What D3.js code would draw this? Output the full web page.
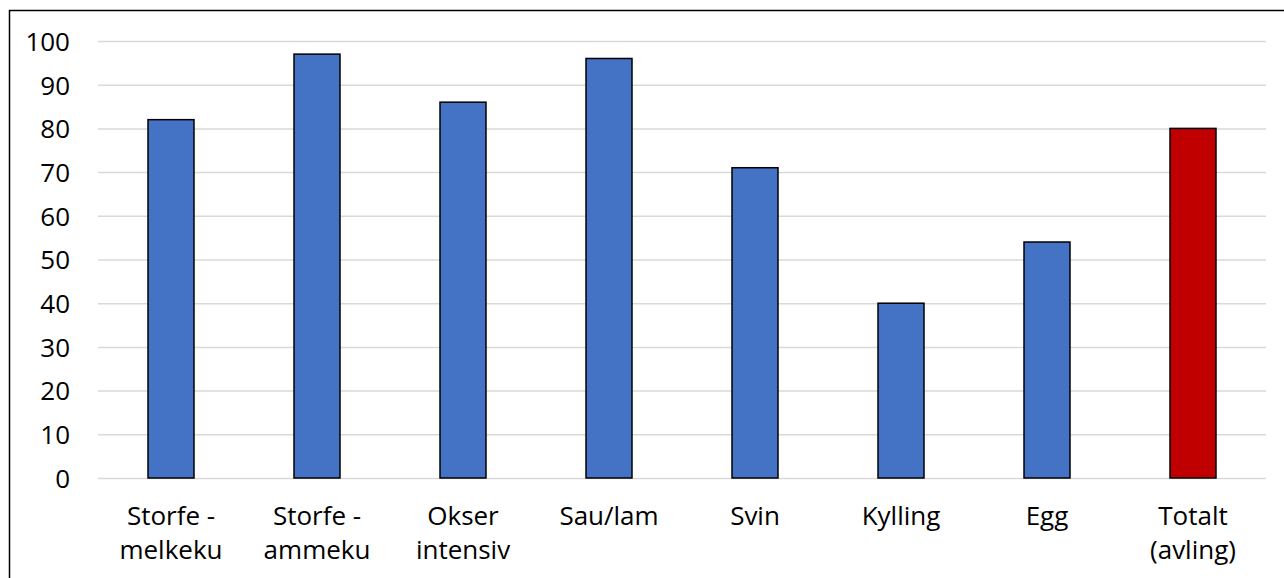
<!DOCTYPE html>
<html>
<head>
<meta charset="utf-8">
<script src="https://cdn.jsdelivr.net/npm/d3@7"></script>
<style>
  body { margin: 0; background: #fff; }
  svg { display: block; }
  .axis text { font-family: "Open Sans", Lato, sans-serif; font-size: 26px; fill: #000; }
  .grid line { stroke: #d9d9d9; stroke-width: 1.5px; }
</style>
</head>
<body>
<div id="chart"></div>
<script>
// chart data
var categories = ["Storfe -\nmelkeku", "Storfe -\nammeku", "Okser\nintensiv", "Sau/lam", "Svin", "Kylling", "Egg", "Totalt\n(avling)"];
var values = [82, 97, 86, 96, 71, 40, 54, 80];
var barColors = ["#4472c4", "#4472c4", "#4472c4", "#4472c4", "#4472c4", "#4472c4", "#4472c4", "#c00000"];
var yTicks = [0, 10, 20, 30, 40, 50, 60, 70, 80, 90, 100];

var W = 1284, H = 578;
var plot = {left: 98, right: 1266, top: 41, bottom: 478};

var svg = d3.select("#chart")
    .append("svg")
    .attr("width", W)
    .attr("height", H);

// outer frame (right and bottom edges fall outside the picture)
svg.append("rect")
    .attr("x", 9.5)
    .attr("y", 10.5)
    .attr("width", W + 20)
    .attr("height", H + 20)
    .attr("fill", "none")
    .attr("stroke", "#000")
    .attr("stroke-width", 1.5);

var x = d3.scaleBand()
    .domain(categories)
    .range([plot.left, plot.right])
    .paddingInner(0.685)
    .paddingOuter(0.3425);

var y = d3.scaleLinear()
    .domain([0, 100])
    .range([plot.bottom, plot.top]);

// gridlines
svg.append("g")
    .attr("class", "grid")
    .attr("transform", "translate(" + plot.left + ",0)")
    .call(d3.axisLeft(y).tickValues(yTicks).tickSize(-(plot.right - plot.left)).tickFormat(""))
    .call(function(g) { g.select(".domain").remove(); });

// y axis labels
svg.append("g")
    .attr("class", "axis y-axis")
    .attr("transform", "translate(" + plot.left + ",0)")
    .call(d3.axisLeft(y).tickValues(yTicks).tickSize(0).tickPadding(28))
    .call(function(g) { g.select(".domain").remove(); })
    .selectAll("text")
    .attr("dy", "0.36em");

// bars
svg.selectAll(".bar")
    .data(values)
    .enter().append("rect")
    .attr("class", "bar")
    .attr("x", function(d, i) { return x(categories[i]); })
    .attr("width", x.bandwidth())
    .attr("y", function(d) { return y(d); })
    .attr("height", function(d) { return y(0) - y(d); })
    .attr("fill", function(d, i) { return barColors[i]; })
    .attr("stroke", "#000")
    .attr("stroke-width", 1.5);

// x axis labels (two lines)
var xAxis = svg.append("g")
    .attr("class", "axis x-axis")
    .attr("transform", "translate(0," + plot.bottom + ")")
    .call(d3.axisBottom(x).tickSize(0).tickFormat(""))
    .call(function(g) { g.select(".domain").remove(); });

xAxis.selectAll(".tick text").remove();
xAxis.selectAll(".tick").append("text")
    .attr("fill", "#000")
    .attr("text-anchor", "middle")
    .each(function(d) {
        var lines = d.split("\n");
        var t = d3.select(this);
        lines.forEach(function(line, i) {
            t.append("tspan")
                .attr("x", 0)
                .attr("y", 47 + i * 34)
                .text(line);
        });
    });
</script>
</body>
</html>
